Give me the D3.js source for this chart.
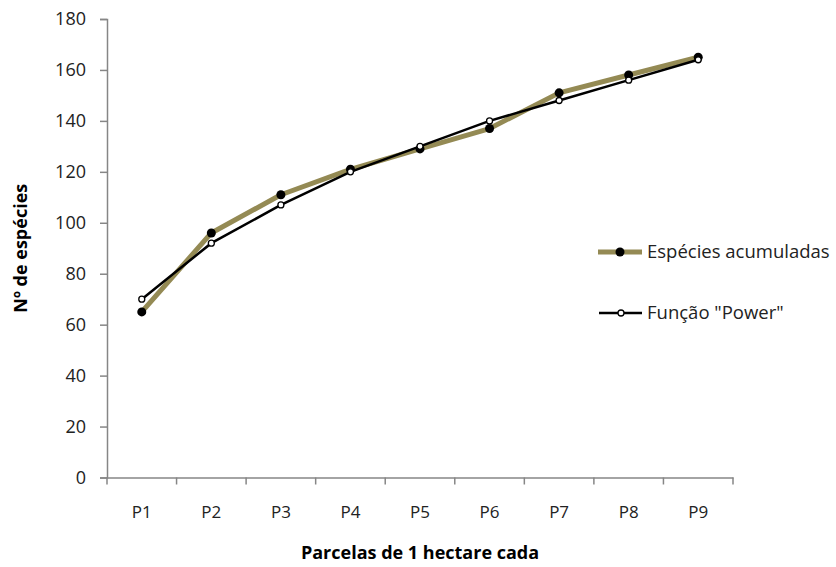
<!DOCTYPE html>
<html>
<head>
<meta charset="utf-8">
<script src="https://cdn.jsdelivr.net/npm/d3@7"></script>
<style>
  body { margin: 0; background: #fff; }
  text { font-family: "Open Sans", Lato, sans-serif; }
</style>
</head>
<body>
<div id="chart"></div>
<script>
// data
const categories = ["P1", "P2", "P3", "P4", "P5", "P6", "P7", "P8", "P9"];
const especies = [65, 96, 111, 121, 129, 137, 151, 158, 165];
const power = [70, 92, 107, 120, 130, 140, 148, 156, 164];
const yTicks = [0, 20, 40, 60, 80, 100, 120, 140, 160, 180];

const width = 836, height = 567;
const margin = {top: 19, right: 103, bottom: 90, left: 107};

const svg = d3.select("#chart").append("svg")
  .attr("width", width)
  .attr("height", height);

const x = d3.scaleBand()
  .domain(categories)
  .range([margin.left, width - margin.right]);

const y = d3.scaleLinear()
  .domain([0, 180])
  .range([height - margin.bottom + 0.5, margin.top]);

const axisColor = "#868686";

// y axis
const yAxis = svg.append("g")
  .attr("transform", "translate(" + margin.left + ",0)")
  .call(d3.axisLeft(y).tickValues(yTicks).tickSize(7).tickPadding(14));
yAxis.select(".domain").attr("stroke", axisColor).attr("stroke-width", 1.5);
yAxis.selectAll(".tick line").attr("stroke", axisColor).attr("stroke-width", 1.5);
yAxis.selectAll(".tick text")
  .style("font-size", "18px")
  .attr("fill", "#222");

// x axis, ticks on category boundaries
const xAxis = svg.append("g")
  .attr("transform", "translate(0," + y(0) + ")")
  .call(d3.axisBottom(x).tickSize(0).tickPadding(28));
xAxis.select(".domain").attr("stroke", axisColor).attr("stroke-width", 1.5);
xAxis.selectAll(".tick text")
  .style("font-size", "17px")
  .attr("fill", "#222");
const bounds = categories.map(c => x(c)).concat([x.range()[1]]);
xAxis.selectAll(".bound")
  .data(bounds)
  .enter().append("line")
  .attr("x1", d => d).attr("x2", d => d)
  .attr("y1", 0).attr("y2", 7)
  .attr("stroke", axisColor)
  .attr("stroke-width", 1.5);

const cx = (d, i) => x(categories[i]) + x.bandwidth() / 2;

const line = d3.line()
  .x((d, i) => cx(d, i))
  .y(d => y(d));

// especies acumuladas
svg.append("path")
  .datum(especies)
  .attr("d", line)
  .attr("fill", "none")
  .attr("stroke", "#948a54")
  .attr("stroke-width", 5)
  .attr("stroke-linejoin", "round");

// power function
svg.append("path")
  .datum(power)
  .attr("d", line)
  .attr("fill", "none")
  .attr("stroke", "#000")
  .attr("stroke-width", 2.5);

svg.append("g")
  .selectAll("circle")
  .data(especies)
  .enter().append("circle")
  .attr("cx", cx)
  .attr("cy", d => y(d))
  .attr("r", 4.5)
  .attr("fill", "#000");

svg.append("g")
  .selectAll("circle")
  .data(power)
  .enter().append("circle")
  .attr("cx", cx)
  .attr("cy", d => y(d))
  .attr("r", 3)
  .attr("fill", "#fff")
  .attr("stroke", "#000")
  .attr("stroke-width", 1.3);

// axis titles
svg.append("text")
  .attr("transform", "translate(27," + (y(0) + y(180)) / 2 + ")rotate(-90)")
  .attr("text-anchor", "middle")
  .style("font-size", "18px")
  .style("font-weight", "bold")
  .text("Nº de espécies");

svg.append("text")
  .attr("x", (margin.left + width - margin.right) / 2)
  .attr("y", 559)
  .attr("text-anchor", "middle")
  .style("font-size", "18px")
  .style("font-weight", "bold")
  .text("Parcelas de 1 hectare cada");

// legend
const legend = svg.append("g");
legend.append("line")
  .attr("x1", 598).attr("x2", 642).attr("y1", 252).attr("y2", 252)
  .attr("stroke", "#948a54").attr("stroke-width", 5);
legend.append("circle")
  .attr("cx", 620).attr("cy", 252).attr("r", 4.5).attr("fill", "#000");
legend.append("text")
  .attr("x", 647).attr("y", 258)
  .style("font-size", "18.5px")
  .attr("fill", "#222")
  .text("Espécies acumuladas");

legend.append("line")
  .attr("x1", 599).attr("x2", 642).attr("y1", 313).attr("y2", 313)
  .attr("stroke", "#000").attr("stroke-width", 2.5);
legend.append("circle")
  .attr("cx", 621).attr("cy", 313).attr("r", 3)
  .attr("fill", "#fff").attr("stroke", "#000").attr("stroke-width", 1.3);
legend.append("text")
  .attr("x", 647).attr("y", 319)
  .style("font-size", "18.5px")
  .attr("fill", "#222")
  .text("Função \"Power\"");
</script>
</body>
</html>
